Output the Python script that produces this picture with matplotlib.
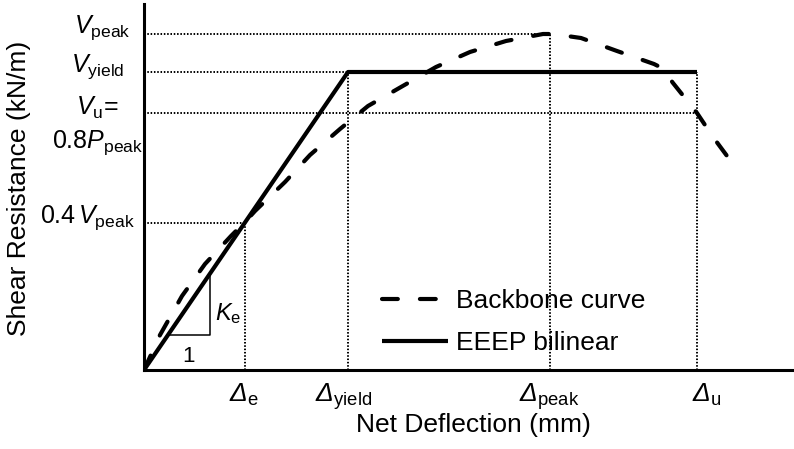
import matplotlib
matplotlib.use("Agg")
import matplotlib.pyplot as plt

plt.rcParams['font.family'] = ['Liberation Sans', 'DejaVu Sans']
plt.rcParams['mathtext.fontset'] = 'custom'
plt.rcParams['mathtext.rm'] = 'Liberation Sans'
plt.rcParams['mathtext.it'] = 'Liberation Sans:italic'
plt.rcParams['mathtext.cal'] = 'Liberation Sans:italic'

# ---- data (arbitrary schematic units) ----
delta_e, delta_yield, delta_peak, delta_u = 10.1, 20.4, 40.6, 55.3
v_peak, v_yield, v_u, v_04 = 33.6, 29.8, 25.7, 14.7

bb_x = [0, 1.6, 3.8, 6.1, 8.7, 10.1, 11.1, 14.1, 16.6, 19.6, 22.4, 25.7, 29.2,
        32.6, 36.2, 39.9, 40.9, 43.7, 47.3, 51.0, 51.8, 52.9, 54.1, 55.3, 56.9, 58.6]
bb_y = [0, 3.5, 7.4, 10.6, 13.4, 14.8, 15.9, 18.8, 21.5, 24.1, 26.4, 28.3, 30.3,
        31.8, 32.9, 33.6, 33.6, 33.2, 31.9, 30.6, 30.2, 28.7, 27.2, 25.7, 23.3, 21.0]

eeep_x = [0, delta_yield, delta_u]
eeep_y = [0, v_yield, v_yield]

ke = v_yield / delta_yield
tri_x0, tri_x1 = 2.4, 6.6

FS = 19
FS_Y = 18

fig = plt.figure(figsize=(7.94, 4.49), dpi=100)
ax = fig.add_axes([144/794, 79/449, 650/794, 366/449])
ax.set_xlim(0, 65)
ax.set_ylim(0, 36.6)
for s in ['top', 'right']:
    ax.spines[s].set_visible(False)
for s in ['left', 'bottom']:
    ax.spines[s].set_linewidth(2.2)
ax.set_xticks([])
ax.set_yticks([])

dot = dict(color='black', lw=1.4, linestyle=(0, (0.8, 0.9)), zorder=1)
# horizontal guides
ax.plot([0, delta_peak], [v_peak, v_peak], **dot)
ax.plot([0, delta_yield], [v_yield, v_yield], **dot)
ax.plot([0, delta_u], [v_u, v_u], **dot)
ax.plot([0, delta_e], [v_04, v_04], **dot)
# vertical guides
ax.plot([delta_e, delta_e], [0, v_04], **dot)
ax.plot([delta_yield, delta_yield], [0, v_yield], **dot)
ax.plot([delta_peak, delta_peak], [0, v_peak], **dot)
ax.plot([delta_u, delta_u], [0, v_yield], **dot)

bb, = ax.plot(bb_x, bb_y, color='black', lw=3.0, linestyle=(0, (3.8, 5.3)),
              dash_capstyle='round', zorder=3, label='Backbone curve')
ee, = ax.plot(eeep_x, eeep_y, color='black', lw=3.0, zorder=4,
              solid_capstyle='butt', label='EEEP bilinear')

# Ke triangle
ax.plot([tri_x0, tri_x1, tri_x1], [ke*tri_x0, ke*tri_x0, ke*tri_x1],
        color='black', lw=1.1, zorder=2)
ax.text(tri_x1 + 0.5, ke*tri_x0 + 1.5, r'$K_{\mathrm{e}}$', fontsize=17,
        ha='left', va='baseline')
ax.text((tri_x0 + tri_x1)/2, 0.8, '1', fontsize=16, ha='center', va='baseline')

# y labels
ylab = [(-1.3, v_peak + 0.1, r'$V_{\mathrm{peak}}$'),
        (-2.0, v_yield, r'$V_{\mathrm{yield}}$'),
        (-2.6, v_u - 0.2, r'$V_{\mathrm{u}}$='),
        (-0.1, v_u - 3.5, r'0.8$P_{\mathrm{peak}}$'),
        (-0.9, v_04, r'0.4$\,V_{\mathrm{peak}}$')]
for x, y, t in ylab:
    ax.text(x, y, t, fontsize=FS_Y, ha='right', va='baseline', clip_on=False)

# x labels
xlab = [(delta_e - 0.1, r'$\mathcal{Δ}_{\mathrm{e}}$'),
        (delta_yield - 0.4, r'$\mathcal{Δ}_{\mathrm{yield}}$'),
        (delta_peak - 0.1, r'$\mathcal{Δ}_{\mathrm{peak}}$'),
        (delta_u + 1.0, r'$\mathcal{Δ}_{\mathrm{u}}$')]
for x, t in xlab:
    ax.text(x, -3.2, t, fontsize=FS, ha='center', va='baseline', clip_on=False)

ax.text(32.9, -6.2, 'Net Deflection (mm)', fontsize=FS, ha='center',
        va='baseline', clip_on=False)
ax.text(-12.5, 18.2, 'Shear Resistance (kN/m)', fontsize=FS, rotation=90,
        ha='center', va='center', clip_on=False)

leg = ax.legend(handles=[bb, ee], loc='upper left', frameon=False,
                bbox_to_anchor=(382/794, 1 - 289/449),
                bbox_transform=fig.transFigure, borderaxespad=0, borderpad=0,
                handlelength=2.5, handletextpad=0.3, labelspacing=0.68,
                fontsize=FS)

fig.savefig('out.png', dpi=100)
